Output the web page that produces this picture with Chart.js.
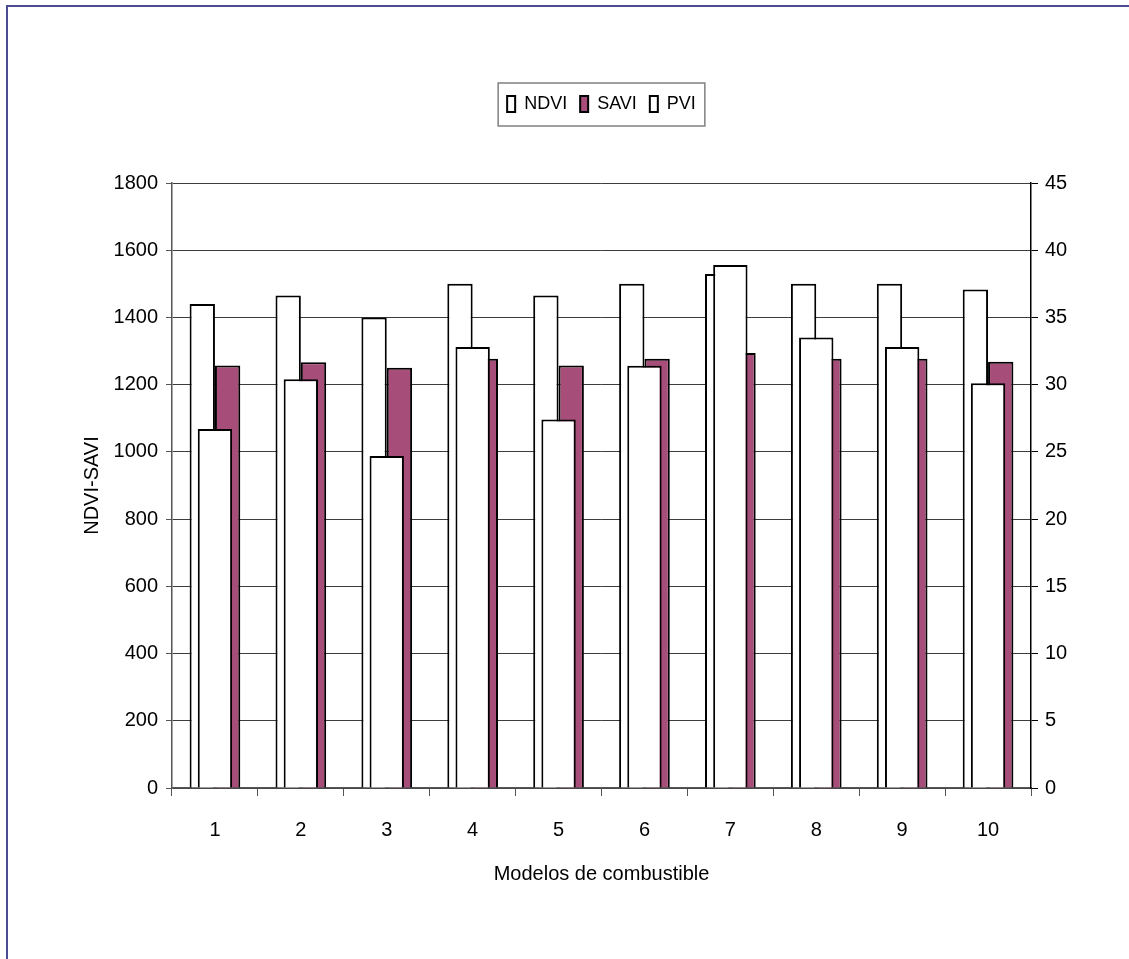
<!DOCTYPE html>
<html lang="es">
<head>
  <meta charset="UTF-8">
  <title>NDVI / SAVI / PVI por modelo de combustible</title>
  <script src="https://cdn.jsdelivr.net/npm/chart.js"></script>
  <style>
    body {
      margin: 0;
      background: #fff;
    }
    canvas {
      display: block;
    }
  </style>
</head>
<body>
  <canvas id="indexChart" width="1129" height="959"></canvas>

  <script>
    // Values
    const categories = ['1', '2', '3', '4', '5', '6', '7', '8', '9', '10'];
    const ndviValues = [1440, 1465, 1400, 1500, 1465, 1500, 1529, 1500, 1500, 1483];
    const saviValues = [1257, 1267, 1250, 1277, 1257, 1277, 1294, 1277, 1277, 1268];
    const pviValues = [26.7, 30.4, 24.7, 32.8, 27.4, 31.4, 38.9, 33.5, 32.8, 30.1];

    const FONT = "'Liberation Sans', Arial, sans-serif";

    // frame lines on top and left of the picture
    const framePlugin = {
      id: 'frame',
      beforeDraw(chart) {
        const c = chart.ctx;
        c.save();
        c.strokeStyle = '#4b4b8f';
        c.lineWidth = 2;
        c.beginPath();
        c.moveTo(7, 959);
        c.lineTo(7, 6);
        c.lineTo(1129, 6);
        c.stroke();
        c.restore();
      }
    };

    // box drawn around the legend items
    const legendBoxPlugin = {
      id: 'legendBox',
      afterDraw(chart) {
        const boxes = chart.legend && chart.legend.legendHitBoxes;
        if (!boxes || !boxes.length) return;
        const left = Math.min(...boxes.map(b => b.left)) - 9;
        const right = Math.max(...boxes.map(b => b.left + b.width)) + 9;
        const top = boxes[0].top - 12;
        const bottom = boxes[0].top + boxes[0].height + 13;
        const c = chart.ctx;
        c.save();
        c.strokeStyle = '#808080';
        c.lineWidth = 1.5;
        c.strokeRect(left, top, right - left, bottom - top);
        c.restore();
      }
    };

    const ctx = document.getElementById('indexChart').getContext('2d');
    const indexChart = new Chart(ctx, {
      type: 'bar',
      data: {
        labels: categories,
        datasets: [
          {
            label: 'NDVI',
            data: ndviValues,
            yAxisID: 'y',
            backgroundColor: '#ffffff',
            borderColor: '#000000',
            borderWidth: 2,
            categoryPercentage: 0.59,
            barPercentage: 1.0
          },
          {
            label: 'SAVI',
            data: saviValues,
            yAxisID: 'y',
            backgroundColor: '#a64d79',
            borderColor: '#000000',
            borderWidth: 2,
            categoryPercentage: 0.59,
            barPercentage: 1.0
          },
          {
            label: 'PVI',
            data: pviValues,
            yAxisID: 'y1',
            backgroundColor: '#ffffff',
            borderColor: '#000000',
            borderWidth: 2,
            grouped: false, // sits over the other two, centred on the category
            order: -1,      // drawn last, on top
            categoryPercentage: 0.4,
            barPercentage: 1.0
          }
        ]
      },
      options: {
        responsive: false,
        animation: false,
        layout: {
          padding: { top: 82, left: 0, right: 0, bottom: 51 }
        },
        font: { family: FONT, size: 20 },
        color: '#000',
        plugins: {
          legend: {
            display: true,
            position: 'top',
            fullSize: false,
            labels: {
              boxWidth: 8,
              boxHeight: 16,
              padding: 13,
              color: '#000',
              font: { family: FONT, size: 18 },
              sort: (a, b) => a.datasetIndex - b.datasetIndex
            }
          },
          // empty spacer between legend and plot
          subtitle: {
            display: true,
            text: '',
            weight: 500,
            font: { size: 10 },
            padding: { top: 48, bottom: 0 }
          },
          tooltip: { enabled: false }
        },
        scales: {
          x: {
            offset: true,
            afterFit(scale) { scale.height = 120; },
            grid: {
              offset: true,
              drawOnChartArea: false,
              drawTicks: true,
              tickLength: 8,
              tickColor: '#555',
              color: '#555'
            },
            border: { color: '#555', width: 1.5 },
            ticks: {
              color: '#000',
              padding: 22,
              font: { family: FONT, size: 20 }
            },
            title: {
              display: true,
              text: 'Modelos de combustible',
              color: '#000',
              font: { family: FONT, size: 20 },
              padding: { top: 0, bottom: 22 }
            }
          },
          y: {
            position: 'left',
            min: 0,
            max: 1800,
            afterFit(scale) { scale.width = 172; },
            grid: {
              color: '#3c3c3c',
              lineWidth: 1,
              drawTicks: true,
              tickLength: 6,
              tickColor: '#555'
            },
            border: { color: '#555', width: 1.5 },
            ticks: {
              stepSize: 200,
              format: { useGrouping: false },
              color: '#000',
              padding: 8,
              font: { family: FONT, size: 20 }
            },
            title: {
              display: true,
              text: 'NDVI-SAVI',
              color: '#000',
              font: { family: FONT, size: 20 },
              padding: { top: 80, bottom: 0 }
            }
          },
          y1: {
            position: 'right',
            min: 0,
            max: 45,
            afterFit(scale) { scale.width = 98; },
            grid: {
              drawOnChartArea: false,
              drawTicks: true,
              tickLength: 7,
              tickColor: '#000'
            },
            border: { color: '#000', width: 1.5 },
            ticks: {
              stepSize: 5,
              color: '#000',
              padding: 7,
              font: { family: FONT, size: 20 }
            }
          }
        }
      },
      plugins: [framePlugin, legendBoxPlugin]
    });
  </script>
</body>
</html>
